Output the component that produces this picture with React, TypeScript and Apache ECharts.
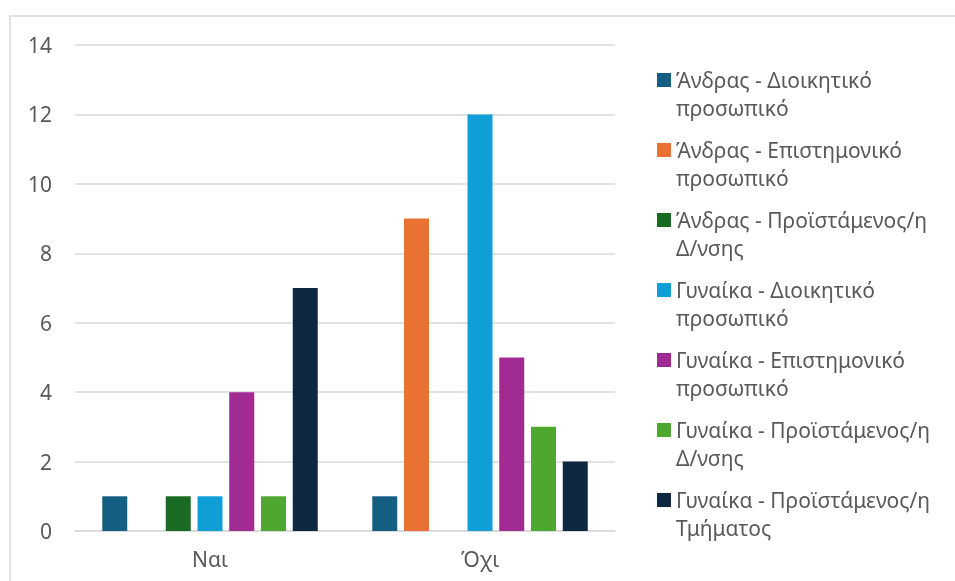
import React, { useEffect, useRef } from "react";
import * as echarts from "echarts";

const categories = ["Ναι", "Όχι"];
const seriesNames = [
  "Άνδρας - Διοικητικό προσωπικό",
  "Άνδρας - Επιστημονικό προσωπικό",
  "Άνδρας - Προϊστάμενος/η Δ/νσης",
  "Γυναίκα - Διοικητικό προσωπικό",
  "Γυναίκα - Επιστημονικό προσωπικό",
  "Γυναίκα - Προϊστάμενος/η Δ/νσης",
  "Γυναίκα - Προϊστάμενος/η Τμήματος",
];
const legendLabels = [
  "Άνδρας - Διοικητικό\nπροσωπικό",
  "Άνδρας - Επιστημονικό\nπροσωπικό",
  "Άνδρας - Προϊστάμενος/η\nΔ/νσης",
  "Γυναίκα - Διοικητικό\nπροσωπικό",
  "Γυναίκα - Επιστημονικό\nπροσωπικό",
  "Γυναίκα - Προϊστάμενος/η\nΔ/νσης",
  "Γυναίκα - Προϊστάμενος/η\nΤμήματος",
];
const valuesNai = [1, 0, 1, 1, 4, 1, 7];
const valuesOxi = [1, 9, 0, 12, 5, 3, 2];
const colors = ["#156082", "#E97132", "#196B24", "#0F9ED5", "#A02B93", "#4EA72E", "#0E2841"];
const yTicks = { min: 0, max: 14, interval: 2 };

const FONT = "'Noto Sans', sans-serif";
const TEXT = "#595959";
const GRID = "#d9d9d9";

export default function App() {
  const ref = useRef<HTMLDivElement>(null);
  useEffect(() => {
    if (!ref.current) return;
    const chart = echarts.init(ref.current, undefined, { renderer: "svg" });
    const labelMap: Record<string, string> = {};
    seriesNames.forEach((n, i) => (labelMap[n] = legendLabels[i]));
    chart.setOption({
      animation: false,
      color: colors,
      textStyle: { fontFamily: FONT },
      graphic: [
        {
          type: "rect",
          shape: { x: 10, y: 16, width: 1000, height: 1000 },
          style: { fill: "none", stroke: GRID, lineWidth: 1.5 },
          silent: true,
        },
      ],
      grid: { left: 75, right: 340, top: 45, bottom: 50, containLabel: false },
      legend: {
        orient: "vertical",
        left: 652,
        top: 61,
        itemWidth: 14,
        itemHeight: 56,
        itemGap: 14,
        icon: "path://M0,0L14,0L0,0Z M0,56L14,56L0,56Z M0,7H14V21H0Z",
        formatter: (name: string) => labelMap[name] || name,
        textStyle: { color: TEXT, fontSize: 21, lineHeight: 28, fontFamily: FONT },
        selectedMode: false,
      },
      xAxis: {
        type: "category",
        data: categories,
        axisLine: { lineStyle: { color: GRID, width: 1.5 } },
        axisTick: { show: false },
        axisLabel: { color: TEXT, fontSize: 21, margin: 17, fontFamily: FONT },
      },
      yAxis: {
        type: "value",
        min: yTicks.min,
        max: yTicks.max,
        interval: yTicks.interval,
        axisLine: { show: false },
        axisTick: { show: false },
        splitLine: { lineStyle: { color: GRID, width: 1.5 } },
        axisLabel: { color: TEXT, fontSize: 21, margin: 23, fontFamily: FONT },
      },
      series: seriesNames.map((name, i) => ({
        name,
        type: "bar",
        data: [valuesNai[i], valuesOxi[i]],
        barWidth: 25,
        barGap: "27%",
      })),
    });
    return () => chart.dispose();
  }, []);
  return <div ref={ref} style={{ position: "fixed", left: 0, top: 0, width: 955, height: 581 }} />;
}
